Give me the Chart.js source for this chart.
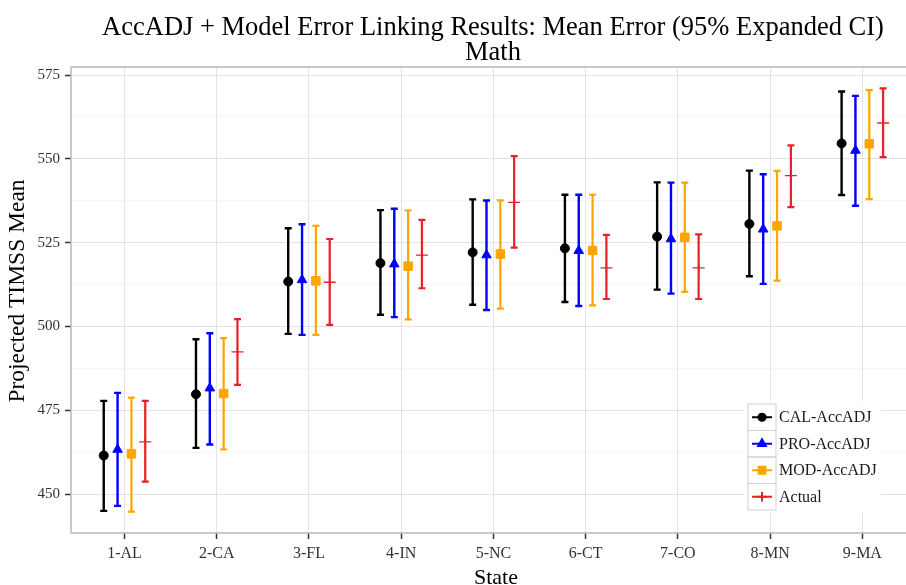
<!DOCTYPE html>
<html><head><meta charset="utf-8">
<script src="https://cdn.jsdelivr.net/npm/chart.js@4"></script>
<style>html,body{margin:0;padding:0;overflow:hidden;background:#fff;width:906px;height:585px}canvas{display:block}</style>
</head><body>
<canvas id="c" width="925" height="585" style="width:925px;height:585px"></canvas>
<script>
const states = ['1-AL','2-CA','3-FL','4-IN','5-NC','6-CT','7-CO','8-MN','9-MA'];
const yTickValues = [450, 475, 500, 525, 550, 575];
const seriesNames = ['CAL-AccADJ','PRO-AccADJ','MOD-AccADJ','Actual'];

const calMean  = [461.5, 479.8, 513.4, 518.9, 522.1, 523.3, 526.8, 530.6, 554.6];
const calLower = [445.0, 463.8, 497.8, 503.5, 506.5, 507.3, 511.0, 515.0, 539.2];
const calUpper = [477.8, 496.2, 529.3, 534.7, 537.9, 539.3, 543.0, 546.5, 570.1];

const proMean  = [463.3, 481.6, 513.9, 518.6, 521.3, 522.6, 526.1, 529.0, 552.5];
const proLower = [446.5, 464.8, 497.5, 502.8, 504.9, 506.1, 509.8, 512.7, 536.0];
const proUpper = [480.2, 498.0, 530.5, 535.1, 537.6, 539.3, 542.9, 545.4, 568.8];

const modMean  = [462.0, 480.0, 513.6, 518.0, 521.6, 522.7, 526.6, 530.0, 554.5];
const modLower = [444.8, 463.3, 497.5, 502.1, 505.3, 506.3, 510.3, 513.7, 538.0];
const modUpper = [478.8, 496.5, 530.0, 534.6, 537.6, 539.3, 542.9, 546.4, 570.5];

const actMean  = [465.6, 492.4, 513.2, 521.3, 537.0, 517.5, 517.5, 545.0, 560.7];
const actLower = [453.7, 482.6, 500.5, 511.4, 523.5, 508.2, 508.2, 535.6, 550.5];
const actUpper = [477.8, 502.2, 526.1, 531.8, 550.8, 527.3, 527.5, 554.0, 571.0];

const series = [
  {name: seriesNames[0], mean: calMean, lo: calLower, hi: calUpper, color: '#000000', style: 'circle',   r: 4.5, bw: 1, off: -0.225, lw: 2.4},
  {name: seriesNames[1], mean: proMean, lo: proLower, hi: proUpper, color: '#0000ff', style: 'triangle', r: 5.5, bw: 1, off: -0.075, lw: 2.4},
  {name: seriesNames[2], mean: modMean, lo: modLower, hi: modUpper, color: '#ffa500', style: 'rect',     r: 6,   bw: 1, off: 0.075,  lw: 2.2},
  {name: seriesNames[3], mean: actMean, lo: actLower, hi: actUpper, color: '#e8202a', style: 'cross',    r: 6,   bw: 1.3, off: 0.225, lw: 2.2}
];

const SERIF = '"Liberation Serif", "Times New Roman", serif';

const errorBars = {
  id: 'errorBars',
  beforeDatasetsDraw(chart) {
    const {ctx, scales: {x, y}} = chart;
    const cap = 3.5;
    series.forEach(s => {
      ctx.save();
      ctx.strokeStyle = s.color;
      ctx.lineWidth = s.lw;
      s.mean.forEach((m, i) => {
        const px = x.getPixelForValue(i + s.off);
        const yl = y.getPixelForValue(s.lo[i]);
        const yh = y.getPixelForValue(s.hi[i]);
        ctx.beginPath();
        ctx.moveTo(px, yl); ctx.lineTo(px, yh);
        ctx.moveTo(px - cap, yl); ctx.lineTo(px + cap, yl);
        ctx.moveTo(px - cap, yh); ctx.lineTo(px + cap, yh);
        ctx.stroke();
      });
      ctx.restore();
    });
  }
};

const decor = {
  id: 'decor',
  afterDraw(chart) {
    const {ctx, chartArea: a} = chart;
    ctx.save();
    ctx.strokeStyle = '#b8b8b8';
    ctx.lineWidth = 1.5;
    ctx.strokeRect(a.left, a.top, a.right - a.left, a.bottom - a.top);
    const cx = 493;
    ctx.fillStyle = '#000';
    ctx.textAlign = 'center';
    ctx.textBaseline = 'middle';
    ctx.font = '26.5px ' + SERIF;
    ctx.fillText('AccADJ + Model Error Linking Results: Mean Error (95% Expanded CI)', cx, 28);
    ctx.fillText('Math', cx, 53);
    ctx.font = '22px ' + SERIF;
    ctx.fillText('State', (a.left + 921) / 2, 578);
    ctx.save();
    ctx.font = '23.5px ' + SERIF;
    ctx.translate(18, 291);
    ctx.rotate(-Math.PI / 2);
    ctx.fillText('Projected TIMSS Mean', 0, 0);
    ctx.restore();
    const lx = 748, ly = 404, kw = 28, kh = 26.5;
    ctx.fillStyle = '#fff';
    ctx.fillRect(lx - 3, ly - 3, 136, kh * 4 + 6);
    series.forEach((s, i) => {
      const top = ly + i * kh;
      ctx.strokeStyle = '#d0d0d0';
      ctx.lineWidth = 1;
      ctx.strokeRect(lx, top, kw, kh);
      const mx = lx + kw / 2, my = top + kh / 2;
      ctx.strokeStyle = s.color;
      ctx.lineWidth = 2;
      ctx.beginPath();
      ctx.moveTo(lx + 4, my); ctx.lineTo(lx + kw - 4, my);
      ctx.stroke();
      ctx.fillStyle = s.color;
      Chart.helpers.drawPoint(ctx, {pointStyle: s.style, radius: s.r * 0.8, borderWidth: s.bw}, mx, my);
      ctx.fillStyle = '#1a1a1a';
      ctx.textAlign = 'left';
      ctx.textBaseline = 'middle';
      ctx.font = '16px ' + SERIF;
      ctx.fillText(s.name, lx + kw + 3, my + 1);
    });
    ctx.restore();
  }
};

const datasets = series.map(s => ({
  label: s.name,
  data: s.mean.map((m, i) => ({x: i + s.off, y: m})),
  pointStyle: s.style,
  pointRadius: s.r,
  pointHoverRadius: s.r,
  pointBorderWidth: s.bw,
  backgroundColor: s.color,
  borderColor: s.color,
  showLine: false
}));

new Chart(document.getElementById('c'), {
  type: 'scatter',
  data: {datasets},
  options: {
    responsive: false,
    animation: false,
    layout: {padding: {top: 67, right: 4, bottom: 0, left: 0}},
    plugins: {legend: {display: false}, title: {display: false}, tooltip: {enabled: false}},
    scales: {
      x: {
        type: 'linear', min: -0.58, max: 8.6,
        afterBuildTicks: s => { s.ticks = states.map((_, i) => ({value: i})); },
        afterFit: s => { s.height = 52; },
        border: {display: false},
        grid: {color: '#e3e3e3', lineWidth: 1, tickLength: 6, tickColor: '#333', tickWidth: 1.5},
        ticks: {autoSkip: false, maxRotation: 0, padding: 5, color: '#333',
                font: {family: SERIF, size: 16},
                callback: v => states[v]}
      },
      y: {
        type: 'linear', min: 438.4, max: 577.4,
        afterBuildTicks: s => {
          const t = [];
          for (let v = yTickValues[0]; v <= yTickValues[yTickValues.length - 1]; v += 12.5) t.push({value: v});
          s.ticks = t;
        },
        afterFit: s => { s.width = 71; },
        border: {display: false},
        grid: {
          color: c => (c.tick && yTickValues.includes(c.tick.value)) ? '#e3e3e3' : '#f4f4f4',
          tickColor: c => (c.tick && yTickValues.includes(c.tick.value)) ? '#333' : 'rgba(0,0,0,0)',
          lineWidth: 1, tickLength: 6, tickWidth: 1.5
        },
        ticks: {autoSkip: false, padding: 5, color: '#333',
                font: {family: SERIF, size: 15},
                callback: v => yTickValues.includes(v) ? String(v) : ''}
      }
    }
  },
  plugins: [errorBars, decor]
});
</script>
</body></html>
